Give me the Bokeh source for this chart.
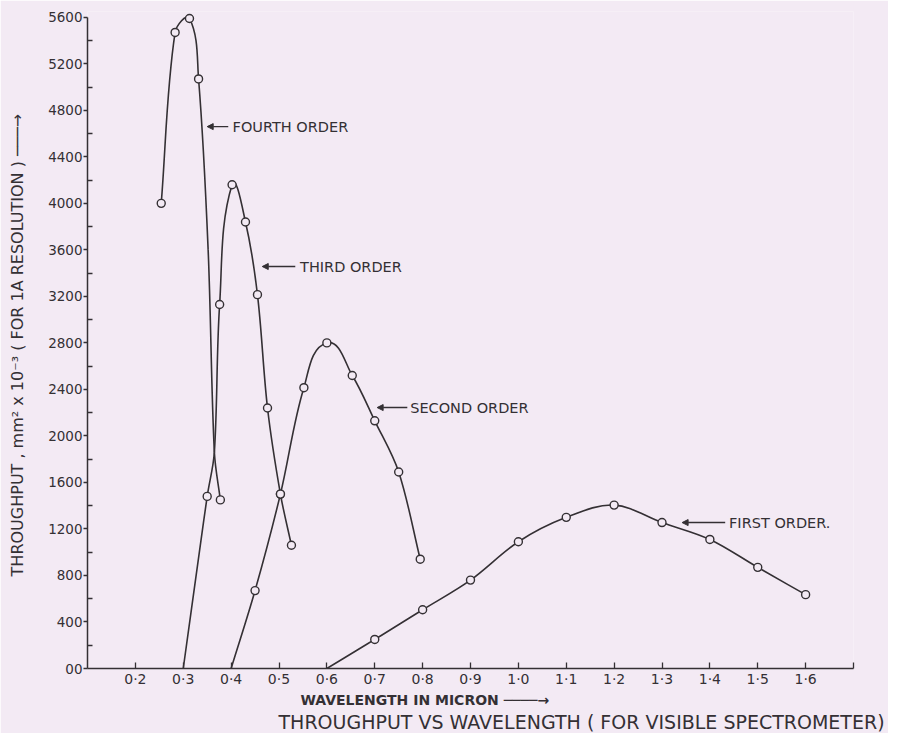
import numpy as np
from bokeh.plotting import figure
from bokeh.models import FixedTicker, Range1d, Title, Arrow, NormalHead, ColumnDataSource
from bokeh.core.properties import value
from bokeh.embed import file_html
from bokeh.resources import INLINE

# ---- data: wavelength (micron) vs throughput (mm^2 x 10^-3) ----
first_x = [0.6, 0.7, 0.8, 0.9, 1.0, 1.1, 1.2, 1.3, 1.4, 1.5, 1.6]
first_y = [0, 250, 505, 760, 1090, 1300, 1405, 1255, 1110, 870, 635]
first_marked = [False, True, True, True, True, True, True, True, True, True, True]

second_x = [0.4, 0.45, 0.503, 0.552, 0.6, 0.653, 0.7, 0.75, 0.795]
second_y = [0, 670, 1500, 2415, 2800, 2520, 2130, 1690, 940]
second_marked = [False, True, True, True, True, True, True, True, True]

third_x = [0.3, 0.35, 0.365, 0.376, 0.402, 0.43, 0.455, 0.476, 0.503, 0.526]
third_y = [0, 1480, 1860, 3130, 4160, 3840, 3215, 2240, 1500, 1060]
third_marked = [False, True, False, True, True, True, True, True, True, True]

fourth_x = [0.254, 0.283, 0.313, 0.332, 0.352, 0.365, 0.3775]
fourth_y = [4000, 5470, 5590, 5070, 3600, 1860, 1450]
fourth_marked = [True, True, True, True, False, False, True]

order_labels = ["FOURTH ORDER", "THIRD ORDER", "SECOND ORDER", "FIRST ORDER."]
label_x = [0.403, 0.544, 0.774, 1.44]
label_y = [4660, 3457, 2244, 1255]
arrow_from_x = [0.394, 0.534, 0.768, 1.432]
arrow_to_x = [0.350, 0.465, 0.705, 1.342]

xticks = [0.2, 0.3, 0.4, 0.5, 0.6, 0.7, 0.8, 0.9, 1.0, 1.1, 1.2, 1.3, 1.4, 1.5, 1.6, 1.7]
xtick_labels = ["0·2", "0·3", "0·4", "0·5", "0·6", "0·7", "0·8", "0·9", "1·0", "1·1",
                "1·2", "1·3", "1·4", "1·5", "1·6", ""]
yticks = [0, 400, 800, 1200, 1600, 2000, 2400, 2800, 3200, 3600, 4000, 4400, 4800, 5200, 5600]
yminor = [200, 600, 1000, 1400, 1800, 2200, 2600, 3000, 3400, 3800, 4200, 4600, 5000, 5400]

# ---- style ----
BG = "#f3eaf4"
INK = "#343034"
FONT = "DejaVu Sans"
X0, X1 = 0.1, 1.7
Y0, Y1 = 0, 5650
FW, FH = 766, 657

p = figure(frame_width=FW, frame_height=FH,
           x_range=Range1d(X0, X1), y_range=Range1d(Y0, Y1),
           output_backend="svg", toolbar_location=None,
           min_border_left=87, min_border_right=35, min_border_top=11, min_border_bottom=62,
           background_fill_color=BG, border_fill_color=BG)
p.outline_line_color = None
p.xgrid.grid_line_color = None
p.ygrid.grid_line_color = None

# axes
xa = p.xaxis[0]
xa.ticker = FixedTicker(ticks=xticks)
xa.major_label_overrides = dict(zip(xticks, xtick_labels))
xa.bounds = (X0, X1)
xa.major_tick_in = 6
xa.major_tick_out = 0
xa.minor_tick_in = 0
xa.minor_tick_out = 0
xa.major_label_standoff = 2
xa.major_label_text_font = FONT
xa.major_label_text_font_size = "14px"
xa.major_label_text_color = INK
xa.axis_line_color = INK
xa.axis_line_width = 1.5
xa.major_tick_line_color = INK
xa.major_tick_line_width = 1.3

ya = p.yaxis[0]
ya.ticker = FixedTicker(ticks=yticks, minor_ticks=yminor)
ya.major_label_overrides = {0: "00"}
ya.bounds = (0, 5600)
ya.major_tick_in = 0
ya.major_tick_out = 4
ya.minor_tick_in = 5
ya.minor_tick_out = 0
ya.major_label_standoff = 1
ya.major_label_text_font = FONT
ya.major_label_text_font_size = "13.5px"
ya.major_label_text_color = INK
ya.axis_line_color = INK
ya.axis_line_width = 1.5
ya.major_tick_line_color = INK
ya.minor_tick_line_color = INK
ya.major_tick_line_width = 1.3
ya.minor_tick_line_width = 1.3
ya.axis_label = "THROUGHPUT ,  mm² x 10⁻³  ( FOR 1A RESOLUTION ) ───→"
ya.axis_label_text_font = FONT
ya.axis_label_text_font_size = "16px"
ya.axis_label_text_font_style = "normal"
ya.axis_label_text_color = INK
ya.axis_label_standoff = 18

# smooth curves through the read points (cubic Bezier segments)
sx = FW / (X1 - X0)
sy = FH / (Y1 - Y0)

def draw_series(xs, ys, marked):
    P = np.column_stack([np.asarray(xs, float) * sx, np.asarray(ys, float) * sy])
    n = len(P)
    T = np.zeros_like(P)
    for i in range(n):
        if i == 0:
            d = P[1] - P[0]
        elif i == n - 1:
            d = P[-1] - P[-2]
        else:
            d = P[i + 1] - P[i - 1]
        T[i] = d / np.linalg.norm(d)
    L = np.linalg.norm(P[1:] - P[:-1], axis=1)[:, None]
    C0 = P[:-1] + T[:-1] * L / 3
    C1 = P[1:] - T[1:] * L / 3
    src = ColumnDataSource(dict(
        x0=P[:-1, 0] / sx, y0=P[:-1, 1] / sy, x1=P[1:, 0] / sx, y1=P[1:, 1] / sy,
        cx0=C0[:, 0] / sx, cy0=C0[:, 1] / sy, cx1=C1[:, 0] / sx, cy1=C1[:, 1] / sy))
    p.bezier(x0="x0", y0="y0", x1="x1", y1="y1", cx0="cx0", cy0="cy0", cx1="cx1", cy1="cy1",
             source=src, line_color=INK, line_width=1.6)
    mx = [x for x, m in zip(xs, marked) if m]
    my = [y for y, m in zip(ys, marked) if m]
    p.scatter(mx, my, marker="circle", size=8, fill_color=BG, line_color=INK, line_width=1.4)

draw_series(first_x, first_y, first_marked)
draw_series(second_x, second_y, second_marked)
draw_series(third_x, third_y, third_marked)
draw_series(fourth_x, fourth_y, fourth_marked)

# order labels with arrows
p.text(x=label_x, y=label_y, text=order_labels, text_font=value(FONT), text_font_size="14.5px",
       text_baseline="middle", text_align="left", text_color=INK)
asrc = ColumnDataSource(dict(xs=arrow_from_x, xe=arrow_to_x, y=label_y))
p.add_layout(Arrow(x_start="xs", y_start="y", x_end="xe", y_end="y", source=asrc,
                   line_color=INK, line_width=1.4,
                   end=NormalHead(size=6, fill_color=INK, line_color=INK)))

# titles below the axis
t1 = Title(text="WAVELENGTH  IN  MICRON ────→", align="left", offset=213,
           text_font=FONT, text_font_size="14px", text_font_style="bold", text_color=INK,
           standoff=0)
t2 = Title(text="THROUGHPUT VS WAVELENGTH ( FOR VISIBLE SPECTROMETER)", align="left", offset=191,
           text_font=FONT, text_font_size="19px", text_font_style="normal", text_color=INK,
           standoff=2)
p.add_layout(t1, "below")
p.add_layout(t2, "below")

open("out.html", "w").write(file_html(p, INLINE))
